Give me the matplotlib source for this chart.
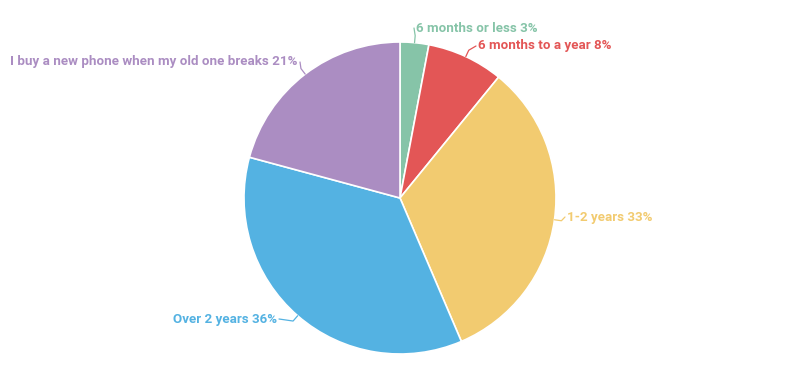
import numpy as np
import matplotlib
matplotlib.use("Agg")
import matplotlib.pyplot as plt

# Survey answers: how often people buy a new phone
labels = ["6 months or less", "6 months to a year", "1-2 years", "Over 2 years",
          "I buy a new phone when my old one breaks"]
percents = [3, 8, 33, 36, 21]
colors = ["#86C4A8", "#E35656", "#F2CB70", "#54B2E2", "#AB8DC2"]

# label text anchor (pixels from top-left) and alignment, one per slice
label_pos = [(416, 28, "left"), (478, 46, "left"), (567, 217, "left"),
             (277, 319, "right"), (298, 62, "right")]

W, H = 800, 375
cx, cy, r = 400, 198, 156

fig = plt.figure(figsize=(W / 100, H / 100), dpi=100)
ax = fig.add_axes([0, 0, 1, 1])

wedges, _ = ax.pie(percents, colors=colors, startangle=90, counterclock=False,
                   center=(cx, H - cy), radius=r,
                   wedgeprops=dict(edgecolor="white", linewidth=1.2))

# pie() resets the limits, so set the pixel frame afterwards
ax.set_xlim(0, W)
ax.set_ylim(0, H)
ax.set_aspect("equal")
ax.axis("off")

for w, lab, pct, col, (tx, ty, ha) in zip(wedges, labels, percents, colors, label_pos):
    mid = np.deg2rad((w.theta1 + w.theta2) / 2)
    ex = cx + r * np.cos(mid)
    ey = (H - cy) + r * np.sin(mid)
    ox = cx + (r + 7) * np.cos(mid)
    oy = (H - cy) + (r + 7) * np.sin(mid)
    end_x = tx - 2 if ha == "left" else tx + 2
    ax.plot([ex, ox, end_x], [ey, oy, H - ty], color=col, lw=0.9, solid_capstyle="round")
    ax.text(tx, H - ty, f"{lab} {pct}%", color=col, ha=ha, va="center",
            fontsize=9.6, fontfamily="Roboto", fontweight="bold")

fig.savefig("out.png", dpi=100, facecolor="white")
